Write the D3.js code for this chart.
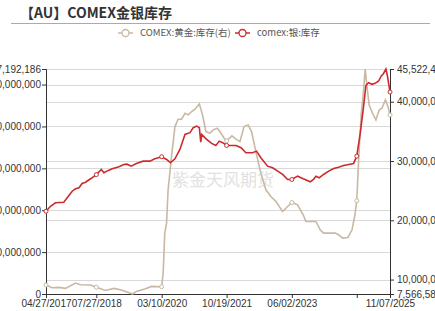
<!DOCTYPE html>
<html><head><meta charset="utf-8">
<script src="https://cdn.jsdelivr.net/npm/d3@7/dist/d3.min.js"></script>
<style>
html,body{margin:0;padding:0;background:#fff;}
svg{display:block;font-family:"Noto Sans CJK SC","Noto Sans",sans-serif;}
</style></head>
<body><svg id="c" width="435" height="311"></svg>
<script>
// ---- data (values in million oz) ----
const titleText = "【AU】COMEX金银库存";
const seriesNames = ["COMEX:黄金:库存(右)", "comex:银:库存"];
const watermark = "紫金天风期货";

const silverDates = ["2017-04-27","2017-06-07","2017-07-22","2017-10-05","2017-11-05","2017-12-20","2018-01-20","2018-02-20","2018-03-20","2018-04-20","2018-06-05","2018-07-27","2018-09-10","2018-10-03","2018-11-18","2018-12-18","2019-01-18","2019-02-17","2019-04-01","2019-05-01","2019-06-07","2019-07-25","2019-09-24","2019-11-24","2020-01-08","2020-03-10","2020-04-23","2020-05-29","2020-07-08","2020-08-22","2020-10-07","2020-11-21","2020-12-21","2021-01-21","2021-02-14","2021-02-27","2021-03-07","2021-04-21","2021-06-05","2021-07-14","2021-08-13","2021-09-13","2021-10-19","2022-01-12","2022-02-27","2022-04-11","2022-06-11","2022-07-17","2022-08-25","2022-10-25","2022-12-10","2023-01-25","2023-03-10","2023-04-25","2023-06-02","2023-07-24","2023-09-13","2023-09-30","2023-11-15","2023-12-15","2024-01-06","2024-02-05","2024-03-15","2024-05-01","2024-06-15","2024-07-29","2024-09-13","2024-10-28","2024-12-12","2025-01-10","2025-02-11","2025-03-13","2025-04-03","2025-04-27","2025-05-27","2025-06-26","2025-07-27","2025-08-20","2025-09-08","2025-10-01","2025-10-15","2025-11-07"];
const silverValues = [197.6,209.5,217.7,219.1,229.6,245.4,251.2,253.6,263.8,266.9,275.1,285.0,297.3,289.4,295.7,299.0,301.4,303.8,309.3,310.0,305.2,311.7,317.2,317.2,322.9,327.7,321.3,313.4,322.9,345.2,381.0,385.1,397.1,400.9,397.1,362.6,381.0,369.1,359.5,354.7,365.0,361.2,354.7,354.7,349.2,337.3,337.3,341.1,325.3,305.2,301.4,293.3,285.4,273.4,273.4,281.3,275.1,273.4,267.9,273.4,281.3,277.5,285.4,293.3,299.7,302.8,306.9,309.3,311.7,329.1,385.1,448.7,498.3,504.7,500.7,503.0,508.5,520.5,526.0,537.192186,520.0,482.2];

const goldDates = ["2017-04-27","2017-06-21","2017-08-21","2017-10-21","2018-01-20","2018-03-05","2018-06-05","2018-07-27","2018-10-18","2019-01-02","2019-03-03","2019-05-01","2019-06-20","2019-07-25","2019-10-09","2019-12-09","2020-03-10","2020-03-23","2020-04-07","2020-04-23","2020-05-07","2020-06-07","2020-07-08","2020-08-06","2020-09-06","2020-10-07","2020-11-05","2020-12-06","2021-01-05","2021-02-14","2021-03-15","2021-04-15","2021-05-20","2021-06-20","2021-07-25","2021-08-13","2021-09-27","2021-10-19","2021-12-06","2022-01-12","2022-02-17","2022-03-26","2022-05-02","2022-06-02","2022-07-11","2022-08-25","2022-10-10","2022-11-24","2023-01-09","2023-03-10","2023-04-25","2023-06-02","2023-07-24","2023-09-13","2023-10-07","2023-12-01","2024-01-06","2024-02-14","2024-03-15","2024-05-01","2024-06-29","2024-07-29","2024-09-04","2024-10-22","2024-11-28","2024-12-22","2025-01-10","2025-01-27","2025-02-20","2025-03-13","2025-03-27","2025-04-11","2025-05-02","2025-06-02","2025-07-02","2025-08-01","2025-08-26","2025-09-26","2025-10-20","2025-11-07"];
const goldValues = [9.08,8.63,8.68,8.51,9.42,9.13,9.08,8.72,8.17,8.51,8.29,7.90,7.566583,8.00,8.41,8.85,8.80,11.1,17.85,19.53,25.14,30.75,35.81,37.05,37.05,38.06,37.78,38.33,38.74,39.63,37.78,34.97,34.70,35.25,35.54,35.13,33.85,33.4,34.24,33.68,33.28,35.81,36.09,34.97,31.59,27.95,25.14,24.01,23.17,21.48,22.33,23.0,22.61,20.93,19.80,19.80,19.80,18.40,17.84,17.84,17.84,17.56,17.0,17.1,18.40,20.64,23.3,30.2,38.06,41.99,45.522409,42.83,39.46,38.06,36.93,38.62,38.91,40.30,39.17,37.78];

const xTickDates = ["2017-04-27","2018-07-27","2020-03-10","2021-10-19","2023-06-02","2025-01-10","2025-11-07"];
const xTickLabels = ["04/27/2017","07/27/2018","03/10/2020","10/19/2021","06/02/2023","","11/07/2025"];
const leftTicks = [0,100,200,300,400,500,537.192186];
const rightTicks = [7.566583,10,20,30,40,45.522409];

// ---- drawing ----
const svg = d3.select("#c");
const L = 46, R = 390, T = 69, B = 294;
const parse = d3.timeParse("%Y-%m-%d");
const RED = "#cc2a2c", TAN = "#c8b8a4";

const x = d3.scaleTime().domain([parse(xTickDates[0]), parse(xTickDates[xTickDates.length-1])]).range([L, R]);
const yL = d3.scaleLinear().domain([0, leftTicks[leftTicks.length-1]]).range([B, T]);
const yR = d3.scaleLinear().domain([rightTicks[0], rightTicks[rightTicks.length-1]]).range([B, T]);
const fmt = v => d3.format(",")(Math.round(v*1e6));

// title
svg.append("text").attr("x", 20).attr("y", 18).attr("font-size", 14).attr("font-weight", "bold")
  .attr("fill", "#333").text(titleText);
svg.append("line").attr("x1", 11).attr("x2", 430).attr("y1", 23.5).attr("y2", 23.5)
  .attr("stroke", "#aaa").attr("stroke-width", 1);

// legend
const legend = [{name: seriesNames[0], color: TAN, x: 118}, {name: seriesNames[1], color: RED, x: 235}];
legend.forEach(d => {
  const g = svg.append("g").attr("transform", `translate(${d.x},33)`);
  g.append("line").attr("x1", 0).attr("x2", 15).attr("stroke", d.color).attr("stroke-width", 1.5);
  g.append("circle").attr("cx", 7.5).attr("r", 3.5).attr("fill", "#fff").attr("stroke", d.color).attr("stroke-width", 1.3);
  g.append("text").attr("x", 22).attr("y", 3.3).attr("font-size", 9.5).attr("fill", "#555").text(d.name);
});

// gridlines
const grid = svg.append("g");
leftTicks.slice(1).forEach(v => grid.append("line").attr("x1", L).attr("x2", R)
  .attr("y1", Math.round(yL(v))+0.5).attr("y2", Math.round(yL(v))+0.5).attr("stroke", "#d9d9d9"));
rightTicks.slice(1, -1).forEach(v => grid.append("line").attr("x1", L).attr("x2", R)
  .attr("y1", Math.round(yR(v))+0.5).attr("y2", Math.round(yR(v))+0.5).attr("stroke", "#d9d9d9"));

// watermark
svg.append("text").attr("x", 223).attr("y", 186).attr("text-anchor", "middle").attr("font-size", 17)
  .attr("fill", "#e2e2e2").text(watermark);

// axes
const axL = d3.axisLeft(yL).tickValues(leftTicks).tickFormat(fmt).tickSize(4).tickPadding(1);
const axR = d3.axisRight(yR).tickValues(rightTicks).tickFormat(fmt).tickSize(4).tickPadding(3);
const axB = d3.axisBottom(x).tickValues(xTickDates.map(parse))
  .tickFormat((d, i) => xTickLabels[i]).tickSize(4).tickPadding(2);
function styleAxis(g){
  g.select(".domain").attr("stroke", "#333");
  g.selectAll(".tick line").attr("stroke", "#333");
  g.selectAll("text").attr("fill", "#333").attr("font-size", 10)
    .attr("font-family", "'Liberation Sans',Arial,sans-serif");
}
svg.append("g").attr("transform", `translate(${L},0)`).call(axL).call(styleAxis);
svg.append("g").attr("transform", `translate(${R},0)`).call(axR).call(styleAxis);
svg.append("g").attr("transform", `translate(0,${B})`).call(axB).call(styleAxis);

// series
const gold = goldDates.map((d, i) => ({date: parse(d), v: goldValues[i], key: d}));
const silver = silverDates.map((d, i) => ({date: parse(d), v: silverValues[i], key: d}));
const lineG = d3.line().x(d => x(d.date)).y(d => yR(d.v));
const lineS = d3.line().x(d => x(d.date)).y(d => yL(d.v));
svg.append("path").datum(gold).attr("d", lineG).attr("fill", "none").attr("stroke", TAN).attr("stroke-width", 1.6);
svg.append("path").datum(silver).attr("d", lineS).attr("fill", "none").attr("stroke", RED).attr("stroke-width", 1.6);

// symbols at tick dates
const tickSet = new Set(xTickDates);
svg.append("g").selectAll("circle").data(gold.filter(d => tickSet.has(d.key))).join("circle")
  .attr("cx", d => x(d.date)).attr("cy", d => yR(d.v)).attr("r", 2)
  .attr("fill", "#fff").attr("stroke", TAN).attr("stroke-width", 1);
svg.append("g").selectAll("circle").data(silver.filter(d => tickSet.has(d.key))).join("circle")
  .attr("cx", d => x(d.date)).attr("cy", d => yL(d.v)).attr("r", 2)
  .attr("fill", "#fff").attr("stroke", RED).attr("stroke-width", 1);
</script></body></html>
